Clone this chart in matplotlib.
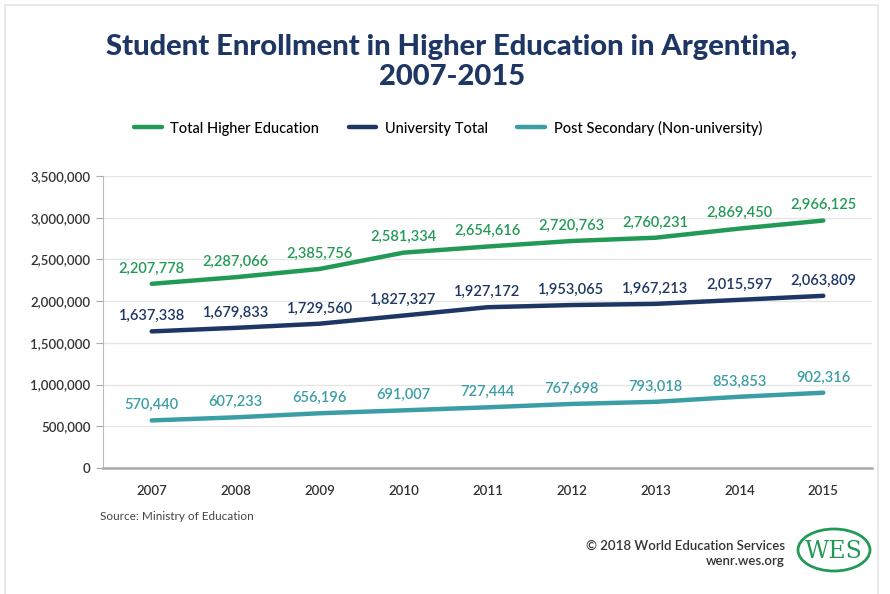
import matplotlib.pyplot as plt
from matplotlib.patches import Ellipse, Rectangle
from matplotlib.ticker import FuncFormatter

years = [2007, 2008, 2009, 2010, 2011, 2012, 2013, 2014, 2015]
total_higher = [2207778, 2287066, 2385756, 2581334, 2654616, 2720763, 2760231, 2869450, 2966125]
university = [1637338, 1679833, 1729560, 1827327, 1927172, 1953065, 1967213, 2015597, 2063809]
post_secondary = [570440, 607233, 656196, 691007, 727444, 767698, 793018, 853853, 902316]

series_names = ["Total Higher Education", "University Total", "Post Secondary (Non-university)"]
colors = ["#229a56", "#1d3664", "#3a9ea4"]

plt.rcParams['font.family'] = ['Lato', 'DejaVu Sans']

fig = plt.figure(figsize=(8.9, 5.94), dpi=100)
ax = fig.add_axes([103 / 890, 1 - 468 / 594, (872 - 103) / 890, (468 - 176) / 594])

# rahmen um die karte
fig.patches.append(Rectangle((5 / 890, -0.1), (878 - 5) / 890, 1.1 - 5 / 594,
                             transform=fig.transFigure, fill=False,
                             edgecolor="#e4e4e4", linewidth=1.2))

for vals, name, c in zip([total_higher, university, post_secondary], series_names, colors):
    ax.plot(years, vals, color=c, linewidth=3.2, label=name, solid_capstyle='round')
    for x, v in zip(years, vals):
        ax.annotate(f"{v:,}", (x, v), xytext=(0, 6), textcoords="offset points",
                    ha="center", va="bottom", fontsize=10.5, color=c, fontweight="semibold")

ax.set_xlim(2007 - 0.58, 2015 + 0.58)
ax.set_ylim(0, 3500000)
ax.set_xticks(years)
ax.set_yticks(range(0, 3500001, 500000))
ax.yaxis.set_major_formatter(FuncFormatter(lambda v, p: f"{int(v):,}"))
ax.tick_params(axis='y', length=5, color="#aaaaaa", labelsize=9.5, labelcolor="#333333", pad=4)
ax.tick_params(axis='x', length=0, labelsize=9.5, labelcolor="#333333", pad=12)
for lbl in ax.get_xticklabels() + ax.get_yticklabels():
    lbl.set_fontweight("semibold")
ax.grid(axis='y', color="#e6e6e6", linewidth=1)
ax.set_axisbelow(True)
for s in ["top", "right"]:
    ax.spines[s].set_visible(False)
ax.spines["left"].set_color("#bbbbbb")
ax.spines["bottom"].set_color("#aaaaaa")
ax.spines["bottom"].set_linewidth(1.8)

# titel in zwei zeilen
fig.text(452 / 890, 1 - 47 / 594, "Student Enrollment in Higher Education in Argentina,",
         ha="center", va="center", fontsize=21, fontweight="black", color="#1d3664")
fig.text(452 / 890, 1 - 77 / 594, "2007-2015",
         ha="center", va="center", fontsize=21, fontweight="black", color="#1d3664")

fig.legend(loc="center", bbox_to_anchor=(448 / 890, 1 - 128 / 594), ncol=3, frameon=False,
           prop={"size": 10.5, "weight": "medium"}, handlelength=1.9, columnspacing=2.0,
           handletextpad=0.6)

fig.text(100 / 890, 1 - 516 / 594, "Source: Ministry of Education", fontsize=8.5, color="#444444",
         va="center")
fig.text(785 / 890, 1 - 546 / 594, "\u00a9 2018 World Education Services", fontsize=9.5,
         color="#333333", ha="right", va="center", fontweight="semibold")
fig.text(785 / 890, 1 - 561 / 594, "wenr.wes.org", fontsize=9.5, color="#333333",
         ha="right", va="center", fontweight="semibold")

# WES logo
fig.patches.append(Ellipse((834 / 890, 1 - 550 / 594), 72 / 890, 42 / 594,
                           transform=fig.transFigure, fill=False,
                           edgecolor="#229a56", linewidth=2))
fig.text(834 / 890, 1 - 551 / 594, "WES", fontsize=17, family="DejaVu Serif",
         color="#229a56", ha="center", va="center")

fig.savefig("out.png", dpi=100)
